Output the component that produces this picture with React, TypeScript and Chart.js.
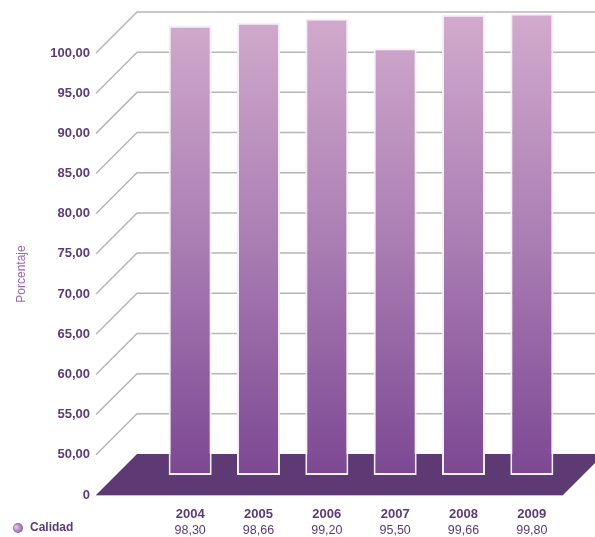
import { useEffect, useRef } from 'react';
import { Chart, registerables } from 'chart.js';

Chart.register(...registerables);

// ---- data ----
const years = ['2004', '2005', '2006', '2007', '2008', '2009'];
const calidad = [98.3, 98.66, 99.2, 95.5, 99.66, 99.8];
const seriesName = 'Calidad';
const axisTitle = 'Porcentaje';
const yMin = 45; // axis break: the lowest tick is shown as "0"
const yMax = 100;
const yStep = 5;
const breakLabel = '0';

// ---- style ----
const W = 595;
const H = 537;
const DEPTH = 41; // 3D depth in px
const FONT = "'Liberation Sans', Arial, sans-serif";
const LABEL_COLOR = '#5c3a78';
const TITLE_COLOR = '#a064b6';
const GRID_COLOR = '#b6b6b6';
const FLOOR_COLOR = '#5d3a73';

const fmt = (v: number) => v.toFixed(2).replace('.', ',');

const decoPlugin = {
  id: 'deco',
  beforeDatasetsDraw(chart: any) {
    const { ctx, chartArea, scales } = chart;
    const y = scales.y;
    const frontX = chartArea.left - 60;
    const backX = frontX + DEPTH;
    ctx.save();
    // grid lines (front diagonal + back wall)
    ctx.strokeStyle = GRID_COLOR;
    ctx.lineWidth = 1.5;
    y.ticks.forEach((t: any) => {
      if (t.value <= yMin) return;
      const yf = y.getPixelForValue(t.value);
      ctx.beginPath();
      ctx.moveTo(frontX, yf);
      ctx.lineTo(backX, yf - DEPTH);
      ctx.lineTo(W, yf - DEPTH);
      ctx.stroke();
    });
    // floor
    const yf0 = y.getPixelForValue(yMin);
    const frontRight = chartArea.right - 3;
    ctx.fillStyle = FLOOR_COLOR;
    ctx.beginPath();
    ctx.moveTo(frontX, yf0);
    ctx.lineTo(backX, yf0 - DEPTH);
    ctx.lineTo(frontRight + DEPTH, yf0 - DEPTH);
    ctx.lineTo(frontRight, yf0);
    ctx.closePath();
    ctx.fill();
    ctx.strokeStyle = '#cdbbd8';
    ctx.lineWidth = 1;
    ctx.beginPath();
    ctx.moveTo(frontX, yf0 + 0.5);
    ctx.lineTo(frontRight, yf0 + 0.5);
    ctx.stroke();
    ctx.restore();
  },
  afterDraw(chart: any) {
    const { ctx } = chart;
    const cx = 18;
    const cy = 528;
    ctx.save();
    const g = ctx.createRadialGradient(cx - 2, cy - 1, 1, cx, cy, 5.5);
    g.addColorStop(0, '#d9bfe4');
    g.addColorStop(1, '#8a55a0');
    ctx.fillStyle = g;
    ctx.beginPath();
    ctx.arc(cx, cy, 5, 0, Math.PI * 2);
    ctx.fill();
    ctx.fillStyle = LABEL_COLOR;
    ctx.font = `bold 12px ${FONT}`;
    ctx.textBaseline = 'middle';
    ctx.textAlign = 'left';
    ctx.fillText(seriesName, 30, cy);
    ctx.restore();
  },
};

export default function App() {
  const ref = useRef<HTMLCanvasElement>(null);

  useEffect(() => {
    if (!ref.current) return;
    const pxPerUnit = (495 - 53) / (yMax - yMin);
    const depthUnits = DEPTH / pxPerUnit;
    const barBase = yMin - depthUnits + (495 - 475) / pxPerUnit; // bars stand inside the floor

    const chart = new Chart(ref.current, {
      type: 'bar',
      data: {
        labels: years,
        datasets: [
          {
            label: seriesName,
            data: calidad,
            xAxisID: 'x',
            yAxisID: 'yb',
            base: barBase,
            clip: false as any,
            categoryPercentage: 1,
            barPercentage: 0.63,
            borderColor: '#f6eff8',
            borderWidth: 2,
            borderSkipped: false,
            backgroundColor: (c: any) => {
              const ch = c.chart;
              const sc = ch.scales.yb;
              if (!sc || !ch.chartArea) return '#a070a8';
              const top = sc.getPixelForValue(yMax);
              const bottom = sc.getPixelForValue(barBase);
              const g = ch.ctx.createLinearGradient(0, top, 0, bottom);
              g.addColorStop(0, '#d2abcd');
              g.addColorStop(0.5, '#aa7db3');
              g.addColorStop(1, '#7c4893');
              return g;
            },
          },
        ],
      },
      options: {
        responsive: false,
        animation: false,
        layout: { padding: { top: 53, right: 29, left: 0, bottom: 0 } },
        plugins: { legend: { display: false }, tooltip: { enabled: false } },
        scales: {
          x: {
            type: 'category',
            position: 'bottom',
            weight: 0,
            grid: { display: false, drawTicks: false },
            border: { display: false },
            ticks: { color: LABEL_COLOR, font: { family: FONT, size: 13, weight: 'bold' }, padding: 12 },
            afterFit: (s: any) => { s.height = 25; },
          },
          x2: {
            type: 'category',
            position: 'bottom',
            weight: 1,
            labels: calidad.map(fmt),
            grid: { display: false, drawTicks: false },
            border: { display: false },
            ticks: { color: LABEL_COLOR, font: { family: FONT, size: 12.5 }, padding: 3.5 },
            afterFit: (s: any) => { s.height = 17; },
          },
          y: {
            type: 'linear',
            position: 'left',
            min: yMin,
            max: yMax,
            grid: { display: false, drawTicks: false },
            border: { display: false },
            ticks: {
              stepSize: yStep,
              color: LABEL_COLOR,
              font: { family: FONT, size: 13, weight: 'bold' },
              padding: 66,
              callback: (v: any) => (v === yMin ? breakLabel : fmt(Number(v))),
            },
            title: {
              display: true,
              text: axisTitle,
              color: TITLE_COLOR,
              font: { family: FONT, size: 12 },
              padding: { top: 14, bottom: 0 },
            },
            afterFit: (s: any) => {
              s.width = 156;
              s.paddingTop = 0;
              s.paddingBottom = 0;
            },
          },
          yb: {
            type: 'linear',
            display: false,
            min: yMin - depthUnits,
            max: yMax - depthUnits,
          },
        },
      } as any,
      plugins: [decoPlugin],
    });
    return () => chart.destroy();
  }, []);

  return (
    <div style={{ position: 'absolute', left: 0, top: 0, width: W, height: H, background: '#fff' }}>
      <canvas ref={ref} width={W} height={H} style={{ display: 'block' }} />
    </div>
  );
}
